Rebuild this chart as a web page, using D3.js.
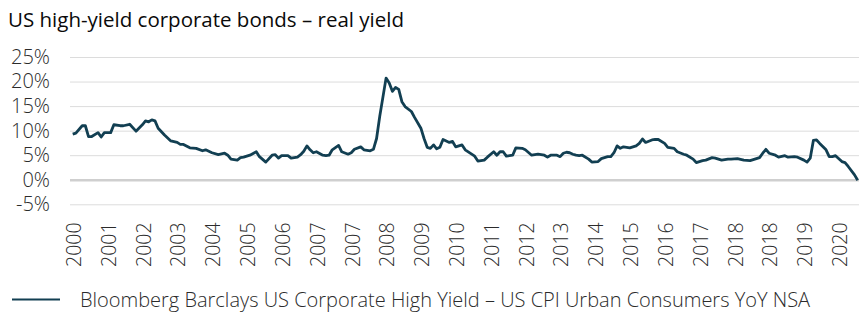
<!DOCTYPE html>
<html>
<head>
<meta charset="utf-8">
<script src="https://cdn.jsdelivr.net/npm/d3@7"></script>
<style>
  html, body { margin: 0; padding: 0; background: #ffffff; }
  svg { display: block; }
</style>
</head>
<body>
<svg id="chart" width="868" height="326"></svg>
<script>
// ---- Data ----
const title = "US high-yield corporate bonds \u2013 real yield";
const seriesName = "Bloomberg Barclays US Corporate High Yield \u2013 US CPI Urban Consumers YoY NSA";

// month offset from the first observation
const months = [0,1,3,4,5,6,8,9,10,12,13,15,16,18,20,22,23,24,25,26,27,29,31,33,34,35,37,39,41,42,44,46,48,49,50,52,53,54,56,58,59,61,63,64,65,66,68,69,71,72,73,74,75,76,77,79,80,81,82,84,85,87,88,89,91,92,94,95,96,97,99,100,101,102,103,104,105,107,108,110,111,112,113,114,115,116,117,119,120,121,123,124,127,128,130,131,133,134,135,136,137,139,140,142,143,145,147,149,150,151,153,154,155,156,157,158,159,160,161,163,164,166,167,169,170,171,172,173,174,176,178,179,180,181,183,184,185,187,188,190,191,193,194,196,197,199,200,202,203,205,207,208,210,212,214,217,218,219,220,222,223,225,226,228,229,231,232,233,234,235,236,238,239,240,241,243,244,245,247,248];
// real yield, %
const realYield = [9.3,9.5,11.0,11.0,8.8,8.8,9.6,8.7,9.6,9.6,11.2,11.0,11.0,11.3,9.9,11.2,12.0,11.8,12.2,12.0,10.5,9.1,7.9,7.6,7.2,7.2,6.5,6.4,5.9,6.1,5.5,5.1,5.4,5.0,4.2,4.0,4.5,4.6,5.0,5.7,4.7,3.6,5.0,5.1,4.4,4.9,4.9,4.4,4.6,5.1,5.8,6.9,6.1,5.5,5.7,5.0,4.9,5.0,6.1,7.0,5.7,5.2,5.5,6.2,6.7,6.1,5.9,6.2,8.4,12.9,20.7,19.7,18.0,18.8,18.4,15.9,14.9,13.9,12.7,10.5,8.4,6.6,6.4,7.1,6.3,6.6,8.2,7.6,7.8,6.7,7.1,6.1,4.8,3.8,4.0,4.6,5.7,5.0,5.7,5.7,4.8,5.0,6.5,6.4,6.1,5.0,5.2,5.0,4.6,5.0,5.0,4.7,5.4,5.6,5.5,5.2,5.0,4.9,5.0,4.2,3.6,3.7,4.3,4.7,4.7,5.5,6.9,6.4,6.7,6.5,6.9,7.4,8.3,7.6,8.1,8.2,8.2,7.4,6.6,6.4,5.7,5.2,5.0,4.2,3.5,3.9,4.0,4.5,4.4,4.0,4.2,4.2,4.3,4.0,3.9,4.5,5.4,6.2,5.4,5.0,4.6,4.9,4.6,4.7,4.6,4.0,3.6,4.4,8.0,8.1,7.4,6.1,4.7,4.7,4.9,3.7,3.5,2.7,1.0,-0.1];

// x-axis labels, one every 11 months starting at the first observation
const xTickMonths = [0,11,22,33,44,55,66,77,88,99,110,121,132,143,154,165,176,187,198,209,220,231,242];
const xTickLabels = ["2000","2001","2002","2003","2004","2005","2006","2007","2007","2008","2009","2010","2011","2012","2013","2014","2015","2016","2017","2018","2018","2019","2020"];
const yTicks = [-5,0,5,10,15,20,25];

// ---- Drawing ----
const svg = d3.select("#chart");
const font = "'Open Sans', 'Noto Sans', sans-serif";
const textColor = "#2b2b2b";
const lineColor = "#123f52";

const x = d3.scaleLinear().domain([0, 248]).range([72.7, 857.7]);
const y = d3.scaleLinear().domain([-5, 25]).range([204.3, 57]);
const gridLeft = 70, gridRight = 859;

// title
svg.append("text")
  .attr("x", 8).attr("y", 27)
  .attr("font-family", font).attr("font-size", 20.5).attr("fill", "#0a0a0a")
  .text(title);

// y grid and labels
const yAxis = d3.axisLeft(y).tickValues(yTicks).tickSize(0).tickPadding(0)
  .tickFormat(d => d + "%");
const gy = svg.append("g").attr("transform", `translate(${gridLeft},0)`).call(yAxis);
gy.select(".domain").remove();
gy.selectAll(".tick text")
  .attr("x", -20)
  .attr("font-family", font).attr("font-size", 20).attr("font-weight", 300)
  .attr("fill", textColor);
gy.selectAll(".tick").append("line")
  .attr("x1", 0).attr("x2", gridRight - gridLeft)
  .attr("stroke", d => d === 0 ? "#cfcfcf" : "#dcdcdc")
  .attr("stroke-width", d => d === 0 ? 2.5 : 1);

// x axis labels (rotated)
const xAxis = d3.axisBottom(x).tickValues(xTickMonths).tickSize(0)
  .tickFormat((d, i) => xTickLabels[i]);
const gx = svg.append("g").attr("transform", "translate(0,0)").call(xAxis);
gx.select(".domain").remove();
gx.selectAll(".tick text")
  .attr("transform", "rotate(-90)")
  .attr("x", -267).attr("y", 1).attr("dy", "0.35em")
  .attr("text-anchor", "start")
  .attr("font-family", font).attr("font-size", 19.5).attr("font-weight", 300)
  .attr("fill", textColor);

// the series line
const pts = months.map((m, i) => ({ m, v: realYield[i] }));
const line = d3.line().x(d => x(d.m)).y(d => y(d.v));
svg.append("path").datum(pts)
  .attr("d", line)
  .attr("fill", "none").attr("stroke", lineColor)
  .attr("stroke-width", 2.8).attr("stroke-linejoin", "round");

// legend
svg.append("line")
  .attr("x1", 12).attr("x2", 60).attr("y1", 299.5).attr("y2", 299.5)
  .attr("stroke", lineColor).attr("stroke-width", 2.2);
svg.append("text")
  .attr("x", 80).attr("y", 307)
  .attr("font-family", font).attr("font-size", 20).attr("font-weight", 300)
  .attr("fill", textColor)
  .text(seriesName);
</script>
</body>
</html>
